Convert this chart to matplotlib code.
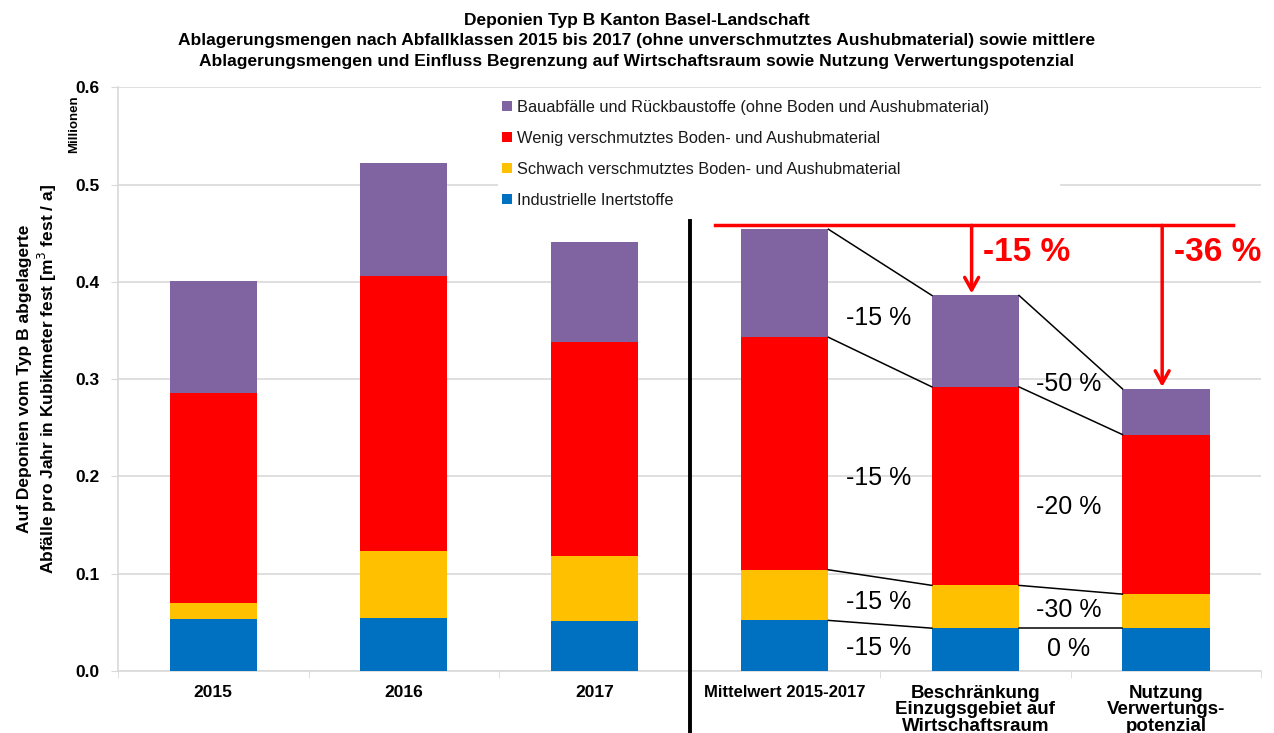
import matplotlib.pyplot as plt
import numpy as np
from matplotlib import rcParams

rcParams["font.family"] = ["Liberation Sans", "DejaVu Sans"]

categories = ["2015", "2016", "2017", "Mittelwert 2015-2017",
              "Beschränkung\nEinzugsgebiet auf\nWirtschaftsraum",
              "Nutzung\nVerwertungs-\npotenzial"]

# Millionen m3 fest / a
inert = [0.053, 0.054, 0.051, 0.052, 0.044, 0.044]
schwach = [0.017, 0.069, 0.067, 0.052, 0.044, 0.035]
wenig = [0.216, 0.283, 0.220, 0.239, 0.204, 0.164]
bau = [0.115, 0.116, 0.103, 0.111, 0.094, 0.047]

series = [
    ("Industrielle Inertstoffe", inert, "#0070C0"),
    ("Schwach verschmutztes Boden- und Aushubmaterial", schwach, "#FFC000"),
    ("Wenig verschmutztes Boden- und Aushubmaterial", wenig, "#FF0000"),
    ("Bauabfälle und Rückbaustoffe (ohne Boden und Aushubmaterial)", bau, "#8064A2"),
]

# change labels between scenario bars (bottom to top)
changes_1 = ["-15 %", "-15 %", "-15 %", "-15 %"]
changes_2 = ["0 %", "-30 %", "-20 %", "-50 %"]
total_changes = ["-15 %", "-36 %"]

fig = plt.figure(figsize=(12.74, 7.33), dpi=100)
ax = fig.add_axes([0.0926, 0.0846, 0.8974, 0.7964])

x = np.arange(len(categories))
w = 0.457
bottom = np.zeros(len(categories))
handles = []
tops = []
for name, vals, col in series:
    b = ax.bar(x, vals, w, bottom=bottom, color=col, label=name, zorder=3)
    handles.append(b)
    bottom = bottom + np.array(vals)
    tops.append(bottom.copy())

# connecting lines between scenario bars
for level in tops:
    for i in (3, 4):
        ax.plot([i + w / 2, i + 1 - w / 2], [level[i], level[i + 1]],
                color="black", lw=1.1, zorder=4)

# percentage labels
label_y1 = [0.024, 0.071, 0.198, 0.363]
label_y2 = [0.023, 0.063, 0.169, 0.295]
for t, yy in zip(changes_1, label_y1):
    ax.text(3.49, yy, t, ha="center", va="center", fontsize=18, zorder=5)
for t, yy in zip(changes_2, label_y2):
    ax.text(4.49, yy, t, ha="center", va="center", fontsize=18, zorder=5)

# red reference line and arrows
ref = tops[-1][3]
ax.plot([2.635, 5.35], [ref + 0.004, ref + 0.004], color="#FF0000", lw=2.5, zorder=6)
for i, t, tx in zip((4, 5), total_changes, (4.27, 5.27)):
    xa = i - 0.02
    ax.annotate("", xy=(xa, tops[-1][i] + 0.002), xytext=(xa, ref + 0.004),
                arrowprops=dict(arrowstyle="->,head_length=0.9,head_width=0.5",
                                color="#FF0000", lw=2.5, shrinkA=0, shrinkB=0), zorder=6)
    ax.text(tx, 0.43, t, ha="center", va="center", fontsize=24,
            fontweight="bold", color="#FF0000", zorder=6)

# separator
ax.plot([2.5, 2.5], [0.463, -0.07], color="black", lw=2.8, clip_on=False, zorder=6)

ax.set_xlim(-0.5, 5.5)
ax.set_ylim(0, 0.6)
ax.set_yticks(np.arange(0, 0.61, 0.1))
ax.set_yticklabels([f"{v:.1f}" for v in np.arange(0, 0.61, 0.1)],
                   fontsize=12.5, fontweight="bold")
ax.set_xticks(x)
ax.set_xticklabels(categories, fontweight="bold")
sizes = [12.5, 12.5, 12.5, 12, 13.5, 13.5]
for lab, s in zip(ax.get_xticklabels(), sizes):
    lab.set_fontsize(s)
    lab.set_linespacing(0.95)
ax.set_xticks(np.arange(-0.5, 5.6, 1), minor=True)
ax.tick_params(axis="x", which="major", length=0, pad=10)
ax.tick_params(axis="x", which="minor", length=5, color="#d9d9d9")
ax.tick_params(axis="y", length=5, color="#d9d9d9", pad=8)

ax.grid(axis="y", color="#d9d9d9", lw=1.2, zorder=0)
for s in ("top", "right"):
    ax.spines[s].set_visible(False)
for s in ("left", "bottom"):
    ax.spines[s].set_color("#d9d9d9")
    ax.spines[s].set_linewidth(1.2)

leg = ax.legend(handles[::-1], [h.get_label() for h in handles[::-1]],
                loc="upper left", bbox_to_anchor=(0.325, 0.6, 0.506, 0.4),
                mode="expand", fontsize=11.8,
                frameon=True, fancybox=False, edgecolor="none", facecolor="white",
                framealpha=1, handlelength=0.6, handleheight=0.6,
                handletextpad=0.3, labelspacing=0.98, borderpad=0.25)
leg.set_zorder(2)
for t in leg.get_texts():
    t.set_color("#1a1a1a")

ax.set_ylabel("Auf Deponien vom Typ B abgelagerte\nAbfälle pro Jahr in Kubikmeter fest [m$^3$ fest / a]",
              fontsize=12.5, fontweight="bold", labelpad=12)
fig.text(0.058, 0.83, "Millionen", rotation=90, fontsize=9.5, fontweight="bold",
         ha="center", va="center")

fig.text(0.5, 1 - 41 / 733,
         "Deponien Typ B Kanton Basel-Landschaft\n"
         "Ablagerungsmengen nach Abfallklassen 2015 bis 2017 (ohne unverschmutztes Aushubmaterial) sowie mittlere\n"
         "Ablagerungsmengen und Einfluss Begrenzung auf Wirtschaftsraum sowie Nutzung Verwertungspotenzial",
         ha="center", va="center", fontsize=12.5, fontweight="bold",
         family=["Liberation Sans Narrow", "Liberation Sans"], linespacing=1.45)

fig.savefig("out.png", dpi=100)
